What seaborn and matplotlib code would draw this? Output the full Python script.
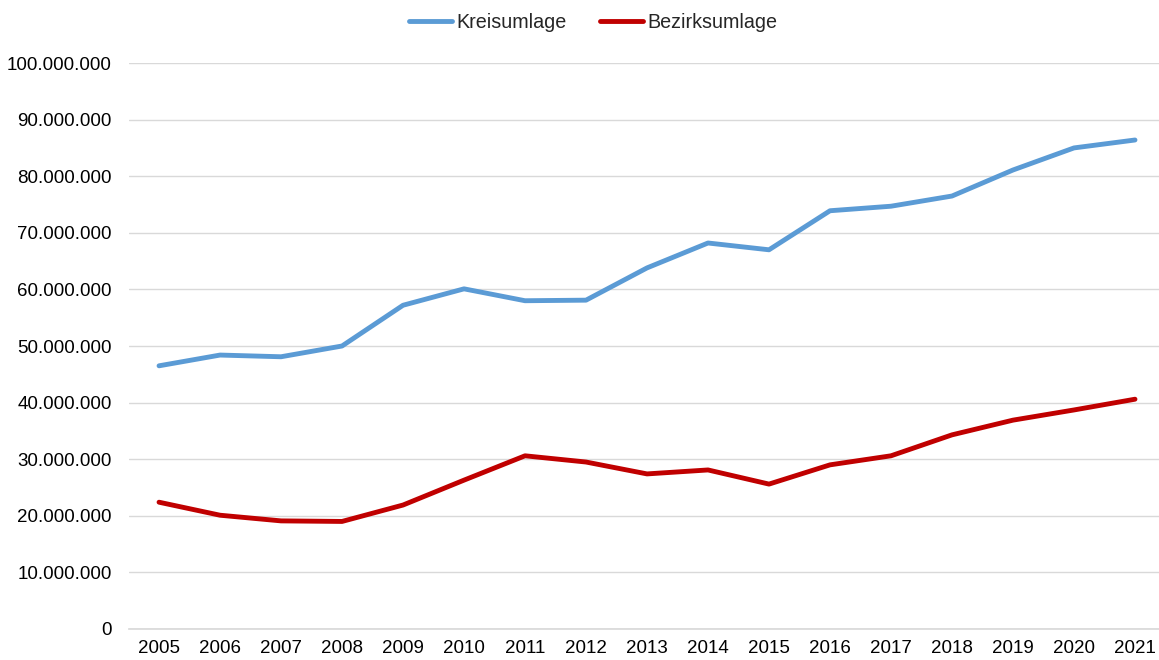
import matplotlib
matplotlib.use("Agg")
import matplotlib.pyplot as plt
import seaborn as sns
import pandas as pd
from matplotlib.ticker import FuncFormatter, MultipleLocator

years = [str(y) for y in range(2005, 2022)]
kreisumlage = [46.5, 48.4, 48.1, 50.0, 57.2, 60.1, 58.0, 58.1, 63.8, 68.2, 67.0,
               73.9, 74.7, 76.5, 81.1, 85.0, 86.4]
bezirksumlage = [22.4, 20.1, 19.1, 19.0, 21.9, 26.3, 30.6, 29.5, 27.4, 28.1, 25.6,
                 29.0, 30.6, 34.3, 36.9, 38.7, 40.6]
series_names = ["Kreisumlage", "Bezirksumlage"]
colors = ["#5B9BD5", "#C00000"]

rows = []
for name, vals in zip(series_names, [kreisumlage, bezirksumlage]):
    for i, (y, v) in enumerate(zip(years, vals)):
        rows.append({"idx": i, "Jahr": y, "Wert": v * 1e6, "Serie": name})
df = pd.DataFrame(rows)

sns.set_theme(style="white")
plt.rcParams['font.family'] = ['Liberation Sans', 'DejaVu Sans']

fig = plt.figure(figsize=(11.59, 6.6), dpi=100)
ax = fig.add_axes([0.1109, 0.047, 0.8947, 0.8575])

sns.lineplot(data=df, x="idx", y="Wert", hue="Serie", hue_order=series_names,
             palette=colors, linewidth=3.5, ax=ax, legend=True,
             solid_capstyle="round")

ax.set_xlim(-0.5, len(years) - 0.5)
ax.set_ylim(0, 100e6)
ax.yaxis.set_major_locator(MultipleLocator(10e6))
ax.yaxis.set_major_formatter(FuncFormatter(lambda v, p: f"{v:,.0f}".replace(",", ".")))
ax.set_xticks(range(len(years)))
ax.set_xticklabels(years)
ax.grid(axis="y", color="#D9D9D9", linewidth=1)
ax.set_axisbelow(True)
for s in ["top", "right", "left"]:
    ax.spines[s].set_visible(False)
ax.spines["bottom"].set_color("#D9D9D9")
ax.tick_params(axis="both", length=0, labelsize=13.5, colors="#000000", pad=8)
ax.tick_params(axis="y", pad=12)
ax.set_xlabel("")
ax.set_ylabel("")

handles, labels = ax.get_legend_handles_labels()
ax.legend(handles, labels, loc="upper center", bbox_to_anchor=(0.5115, 1.007),
          bbox_transform=fig.transFigure, ncol=2, frameon=False,
          fontsize=14.2, handlelength=2.2, handletextpad=0.2, columnspacing=1.7)

fig.savefig("out.png", dpi=100)
